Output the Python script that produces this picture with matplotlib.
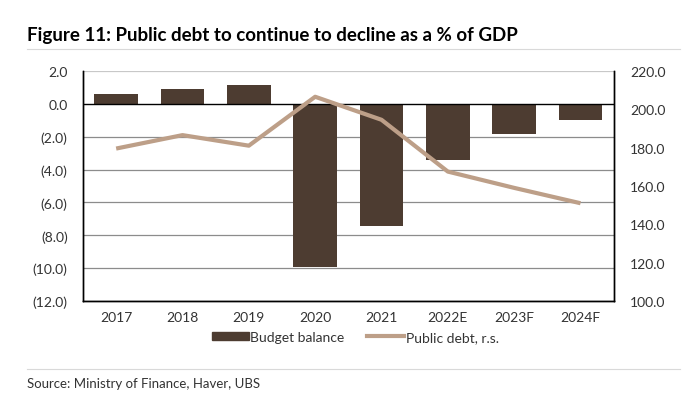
import matplotlib.pyplot as plt
import matplotlib.lines as mlines
import matplotlib.patches as mpatches
import numpy as np

# data
years = ["2017", "2018", "2019", "2020", "2021", "2022E", "2023F", "2024F"]
budget_balance = [0.57, 0.92, 1.12, -9.9, -7.45, -3.4, -1.82, -1.0]
public_debt = [179.5, 186.5, 181.0, 206.5, 194.5, 167.5, 159.0, 151.0]

left_ticks = [2, 0, -2, -4, -6, -8, -10, -12]
right_ticks = [220, 200, 180, 160, 140, 120, 100]

bar_color = "#4d3c31"
line_color = "#bd9f88"
grid_color = "#8c8c8c"

plt.rcParams["font.family"] = ["Lato", "DejaVu Sans"]

fig = plt.figure(figsize=(6.83, 4.06), dpi=100)
ax = fig.add_axes([0.1215, 0.256, 0.777, 0.567])
ax2 = ax.twinx()

x = np.arange(len(years))

for t in left_ticks:
    if t == 0:
        continue
    ax.axhline(t, color=grid_color if t != 2 else "#c8c8c8", lw=0.9, zorder=0)
ax.bar(x, budget_balance, width=0.66, color=bar_color, zorder=2)
ax.axhline(0, color="black", lw=1.0, zorder=3)

ax2.plot(x, public_debt, color=line_color, lw=3, solid_capstyle="butt", zorder=4)

ax.set_xlim(-0.5, len(years) - 0.5)
ax.set_ylim(-12, 2)
ax2.set_ylim(100, 220)
ax.set_yticks(left_ticks)
ax.set_yticklabels([f"{v:.1f}" if v >= 0 else f"({abs(v):.1f})" for v in left_ticks])
ax2.set_yticks(right_ticks)
ax2.set_yticklabels([f"{v:.1f}" for v in right_ticks])
ax.set_xticks(x)
ax.set_xticklabels(years)

for a in (ax, ax2):
    a.tick_params(length=0, labelsize=10, colors="#333333")
    a.spines["top"].set_visible(False)
    for s in ("left", "right", "bottom"):
        a.spines[s].set_color("black")
        a.spines[s].set_linewidth(1.0)
ax.tick_params(axis="y", pad=11)
ax2.tick_params(axis="y", pad=12)
ax.tick_params(axis="x", pad=7)
ax2.set_zorder(ax.get_zorder() + 1)
ax2.patch.set_visible(False)

handles = [mpatches.Patch(color=bar_color, label="Budget balance"),
           mlines.Line2D([], [], color=line_color, lw=3, label="Public debt, r.s.")]
fig.legend(handles=handles, loc="center", bbox_to_anchor=(0.52, 0.168), ncol=2,
           frameon=False, fontsize=10, handlelength=2.7, handleheight=0.55,
           handletextpad=0.1, columnspacing=1.6, labelcolor="#333333")

fig.text(0.04, 0.913, "Figure 11: Public debt to continue to decline as a % of GDP",
         fontsize=13.5, fontweight="bold", va="center", ha="left")
fig.add_artist(mlines.Line2D([0.04, 0.995], [0.877, 0.877], color="#d9d9d9", lw=0.8))
fig.add_artist(mlines.Line2D([0.04, 0.995], [0.088, 0.088], color="#d9d9d9", lw=0.8))
fig.text(0.04, 0.054, "Source: Ministry of Finance, Haver, UBS", fontsize=9.5,
         va="center", ha="left", color="#333333")

fig.savefig("out.png", dpi=100)
